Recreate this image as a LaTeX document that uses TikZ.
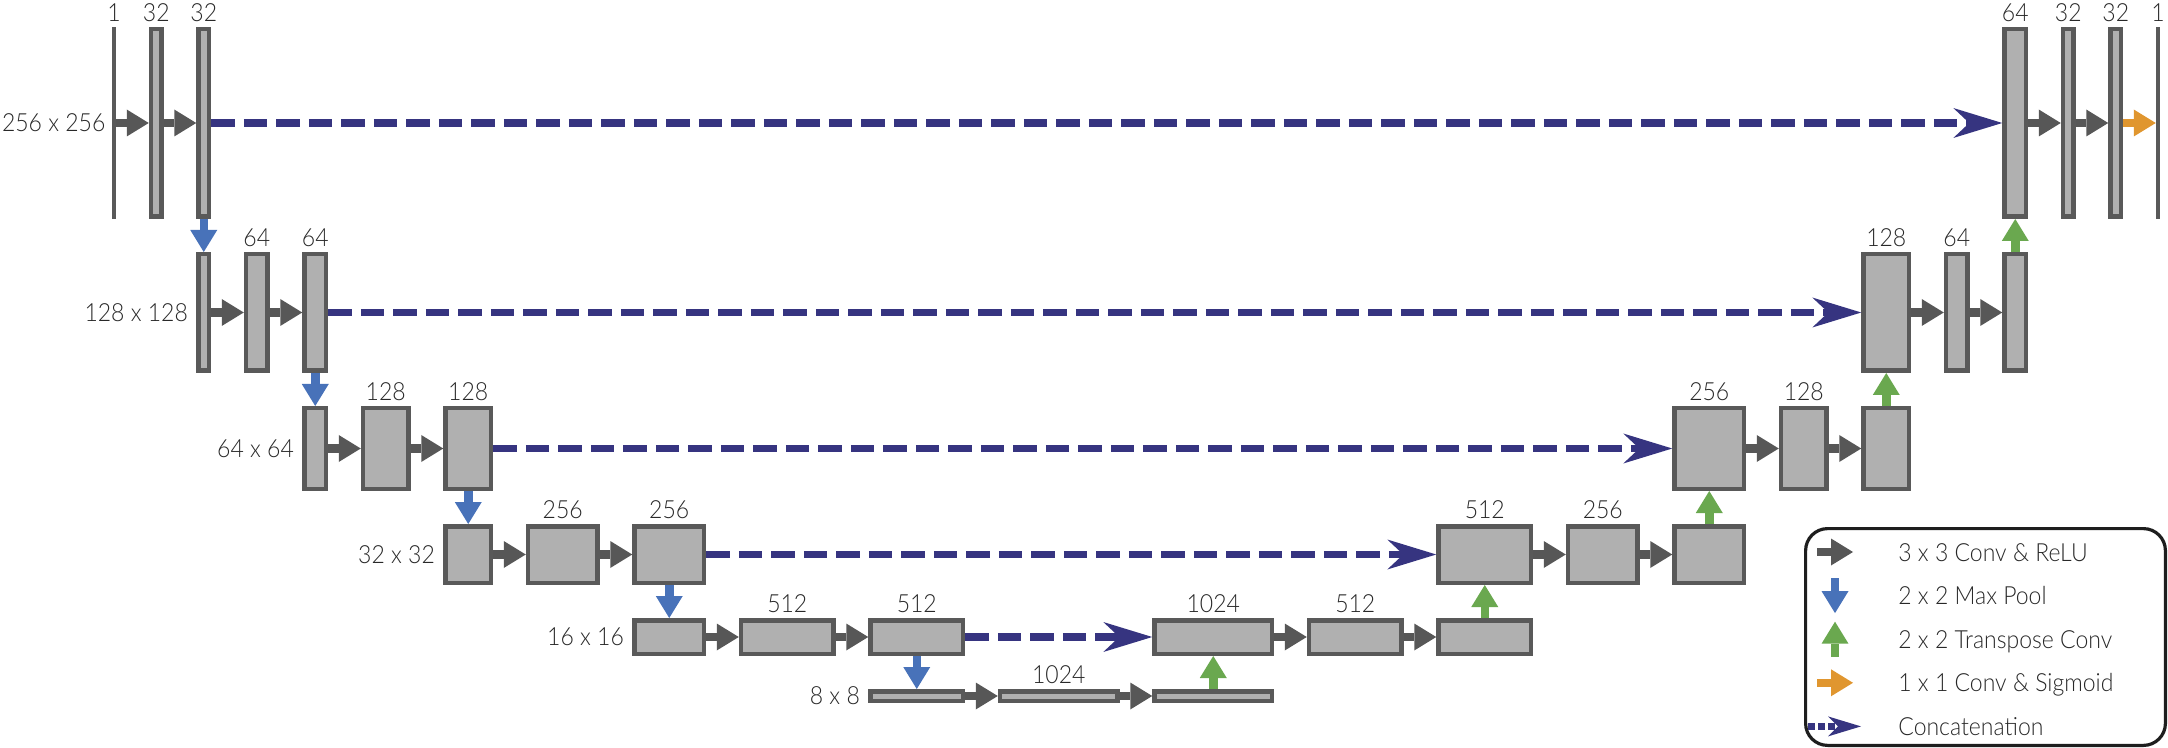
\documentclass[tikz,border=0pt]{standalone}
\usepackage{fontspec}
\setmainfont{Lato Light}[FakeStretch=0.92]
\usetikzlibrary{positioning,arrows.meta}
\definecolor{boxgray}{RGB}{89,89,89}
\definecolor{fillgray}{RGB}{176,176,176}
\definecolor{convgray}{RGB}{87,87,87}
\definecolor{poolblue}{RGB}{72,114,185}
\definecolor{upgreen}{RGB}{106,168,79}
\definecolor{sigorange}{RGB}{224,150,47}
\definecolor{catnavy}{RGB}{54,52,128}
\definecolor{textgray}{RGB}{40,40,40}
\definecolor{legendblack}{RGB}{30,30,30}
\tikzstyle{fmap}=  [draw=boxgray,
fill=fillgray,
line width=2.25pt,
inner sep=0pt,
rectangle,
]
\tikzstyle{wire}=  [fill=boxgray,
inner sep=0pt,
outer sep=0pt,
minimum width=2.25pt,
minimum height=96pt,
]
\tikzstyle{ch32}=[minimum width=5.25pt]
\tikzstyle{ch64}=[minimum width=10.75pt]
\tikzstyle{ch128}=[minimum width=22.75pt]
\tikzstyle{ch256}=[minimum width=34.75pt]
\tikzstyle{ch512}=[minimum width=46.25pt]
\tikzstyle{ch1024}=[minimum width=58.75pt]
\tikzstyle{s256}=[minimum height=93.75pt]
\tikzstyle{s128}=[minimum height=58.25pt]
\tikzstyle{s64}=[minimum height=40.25pt]
\tikzstyle{s32}=[minimum height=28.25pt]
\tikzstyle{s16}=[minimum height=16.75pt]
\tikzstyle{s8}=[minimum height=4.75pt]
\tikzstyle{chan}=[inner sep=0pt]
\tikzstyle{reslabel}=[inner sep=0pt]
\tikzstyle{keytext}=[inner sep=0pt, text height=9pt, text depth=0pt, anchor=west]
\tikzstyle{conv}=  [color=convgray,
line width=4.25pt,
-{Triangle[length=11pt, width=13.5pt, line width=0pt]},
]
\tikzstyle{pool}=[conv, color=poolblue]
\tikzstyle{upconv}=[conv, color=upgreen]
\tikzstyle{sigm}=[conv, color=sigorange]
\tikzstyle{concat}=  [color=catnavy,
line width=3.9pt,
dash pattern=on 11.75pt off 4.5pt,
-{Stealth[length=24.5pt, width=15pt, inset=8pt, line width=0pt]},
]

\begin{document}
\begin{tikzpicture}[font=\fontsize{12.5}{15}\selectfont, text=textgray, node distance=16.25pt]
        \useasboundingbox (0,0) rectangle (1084pt,-374pt);
        \node[wire] (r1a) at (57pt,-61.5pt) {};
        \node[fmap, ch32, s256, right=of r1a] (r1b) {};
        \node[fmap, ch32, s256, right=of r1b] (r1c) {};
        \node[fmap, ch32, s128, below=16.5pt of r1c] (r2a) {};
        \node[fmap, ch64, s128, right=of r2a] (r2b) {};
        \node[fmap, ch64, s128, right=of r2b] (r2c) {};
        \node[fmap, ch64, s64, below=16.5pt of r2c] (r3a) {};
        \node[fmap, ch128, s64, right=of r3a] (r3b) {};
        \node[fmap, ch128, s64, right=of r3b] (r3c) {};
        \node[fmap, ch128, s32, below=16.5pt of r3c] (r4a) {};
        \node[fmap, ch256, s32, right=of r4a] (r4b) {};
        \node[fmap, ch256, s32, right=of r4b] (r4c) {};
        \node[fmap, ch256, s16, below=16.5pt of r4c] (r5a) {};
        \node[fmap, ch512, s16, right=of r5a] (r5b) {};
        \node[fmap, ch512, s16, right=of r5b] (r5c) {};
        \node[fmap, ch512, s8, below=16.5pt of r5c] (r6a) {};
        \node[fmap, ch1024, s8, right=of r6a] (r6b) {};
        \node[fmap, ch1024, s8, right=of r6b] (r6c) {};
        \node[fmap, ch1024, s16, above=16.5pt of r6c] (r5d) {};
        \node[fmap, ch512, s16, right=of r5d] (r5e) {};
        \node[fmap, ch512, s16, right=of r5e] (r5f) {};
        \node[fmap, ch512, s32, above=16.5pt of r5f] (r4d) {};
        \node[fmap, ch256, s32, right=of r4d] (r4e) {};
        \node[fmap, ch256, s32, right=of r4e] (r4f) {};
        \node[fmap, ch256, s64, above=16.5pt of r4f] (r3d) {};
        \node[fmap, ch128, s64, right=of r3d] (r3e) {};
        \node[fmap, ch128, s64, right=of r3e] (r3f) {};
        \node[fmap, ch128, s128, above=16.5pt of r3f] (r2d) {};
        \node[fmap, ch64, s128, right=of r2d] (r2e) {};
        \node[fmap, ch64, s128, right=of r2e] (r2f) {};
        \node[fmap, ch64, s256, above=16.5pt of r2f] (r1d) {};
        \node[fmap, ch32, s256, right=of r1d] (r1e) {};
        \node[fmap, ch32, s256, right=of r1e] (r1f) {};
        \node[wire, right=of r1f] (r1g) {};

        \node[chan, above=2.5pt of r1a] (n1a) {1};
        \node[chan, above=2.5pt of r1b] (n1b) {32};
        \node[chan, above=2.5pt of r1c] (n1c) {32};
        \node[chan, above=2.5pt of r2b] (n2b) {64};
        \node[chan, above=2.5pt of r2c] (n2c) {64};
        \node[chan, above=2.5pt of r3b] (n3b) {128};
        \node[chan, above=2.5pt of r3c] (n3c) {128};
        \node[chan, above=2.5pt of r4b] (n4b) {256};
        \node[chan, above=2.5pt of r4c] (n4c) {256};
        \node[chan, above=2.5pt of r5b] (n5b) {512};
        \node[chan, above=2.5pt of r5c] (n5c) {512};
        \node[chan, above=2.5pt of r6b] (n6b) {1024};
        \node[chan, above=2.5pt of r5d] (n5d) {1024};
        \node[chan, above=2.5pt of r5e] (n5e) {512};
        \node[chan, above=2.5pt of r4d] (n4d) {512};
        \node[chan, above=2.5pt of r4e] (n4e) {256};
        \node[chan, above=2.5pt of r3d] (n3d) {256};
        \node[chan, above=2.5pt of r3e] (n3e) {128};
        \node[chan, above=2.5pt of r2d] (n2d) {128};
        \node[chan, above=2.5pt of r2e] (n2e) {64};
        \node[chan, above=2.5pt of r1d] (n1d) {64};
        \node[chan, above=2.5pt of r1e] (n1e) {32};
        \node[chan, above=2.5pt of r1f] (n1f) {32};
        \node[chan, above=2.5pt of r1g] (n1g) {1};

        \node[reslabel, left=3pt of r1a] (m1) {256 x 256};
        \node[reslabel, left=4pt of r2a] (m2) {128 x 128};
        \node[reslabel, left=4pt of r3a] (m3) {64 x 64};
        \node[reslabel, left=4pt of r4a] (m4) {32 x 32};
        \node[reslabel, left=4pt of r5a] (m5) {16 x 16};
        \node[reslabel, left=4pt of r6a] (m6) {8 x 8};

        \draw[conv] (r1a) edge (r1b) (r1b) edge (r1c)
        (r2a) edge (r2b) (r2b) edge (r2c)
        (r3a) edge (r3b) (r3b) edge (r3c)
        (r4a) edge (r4b) (r4b) edge (r4c)
        (r5a) edge (r5b) (r5b) edge (r5c)
        (r6a) edge (r6b) (r6b) edge (r6c)
        (r5d) edge (r5e) (r5e) edge (r5f)
        (r4d) edge (r4e) (r4e) edge (r4f)
        (r3d) edge (r3e) (r3e) edge (r3f)
        (r2d) edge (r2e) (r2e) edge (r2f)
        (r1d) edge (r1e) (r1e) edge (r1f);
        \draw[sigm] (r1f) -- (r1g);
        \draw[pool] (r1c) edge (r2a) (r2c) edge (r3a) (r3c) edge (r4a)
        (r4c) edge (r5a) (r5c) edge (r6a);
        \draw[upconv] (r6c) edge (r5d) (r5f) edge (r4d) (r4f) edge (r3d)
        (r3f) edge (r2d) (r2f) edge (r1d);
        \draw[concat] (r1c) edge (r1d) (r2c) edge (r2d) (r3c) edge (r3d)
        (r4c) edge (r4d) (r5c) edge (r5d);

        \node[draw=legendblack, line width=1.6pt, rounded corners=11pt, minimum width=179.9pt, minimum height=108.4pt, anchor=south east] (legend) at (1083.5pt,-373.5pt) {};
        \node[keytext] (l1) at ([xshift=47pt, yshift=-12.5pt]legend.north west) {3 x 3 Conv \& ReLU};
        \node[keytext, below=12.4pt of l1.south west, anchor=north west] (l2) {2 x 2 Max Pool};
        \node[keytext, below=12.4pt of l2.south west, anchor=north west] (l3) {2 x 2 Transpose Conv};
        \node[keytext, below=12.4pt of l3.south west, anchor=north west] (l4) {1 x 1 Conv \& Sigmoid};
        \node[keytext, below=12.4pt of l4.south west, anchor=north west] (l5) {Concatenation};
        \draw[conv] ([xshift=-40.5pt]l1.west) -- ([xshift=-22.5pt]l1.west);
        \draw[pool] ([xshift=-31.5pt, yshift=8.75pt]l2.west) -- ([xshift=-31.5pt, yshift=-8.75pt]l2.west);
        \draw[upconv] ([xshift=-31.5pt, yshift=-8.75pt]l3.west) -- ([xshift=-31.5pt, yshift=8.75pt]l3.west);
        \draw[sigm] ([xshift=-40.5pt]l4.west) -- ([xshift=-22.5pt]l4.west);
        \draw[concat, dash pattern=on 3.5pt off 1.5pt, -{Stealth[length=16.5pt, width=10pt, inset=5pt, line width=0pt]}] ([xshift=-45pt]l5.west) -- ([xshift=-18.5pt]l5.west);
    \end{tikzpicture}
\end{document}
